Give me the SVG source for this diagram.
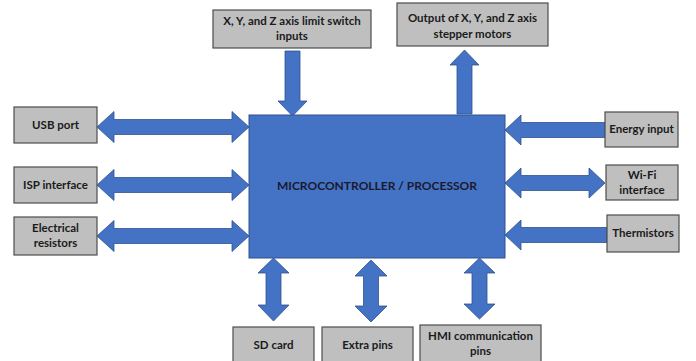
<svg xmlns="http://www.w3.org/2000/svg" width="696" height="361" viewBox="0 0 696 361">
<defs>
<style>
.box{fill:#bfbfbf;stroke:#4d4d4d;stroke-width:1.2}
.main{fill:#4472c4;stroke:#2f528f;stroke-width:1}
.arr{fill:#4472c4;stroke:#2f528f;stroke-width:0.8}
.t{font-family:Lato,"Liberation Sans",sans-serif;font-weight:bold;font-size:11.5px;fill:#1a1a1a;text-anchor:middle}
.tm{font-family:Lato,"Liberation Sans",sans-serif;font-weight:bold;font-size:12px;fill:#1a1a2e;text-anchor:middle}
</style>
</defs>
<rect width="696" height="361" fill="#ffffff"/>
<g id="connectors">
<path class="arr" d="M285,51 L300,51 L300,101 L307,101 L292.5,116 L278,101 L285,101 Z"/>
<path class="arr" d="M457,114 L457,65 L450,65 L464.5,50 L479,65 L472,65 L472,114 Z"/>
<path class="arr" d="M97,127 L114,111.5 L114,119.5 L232,119.5 L232,111.5 L249,127 L232,142.5 L232,134.5 L114,134.5 L114,142.5 Z"/>
<path class="arr" d="M97,185 L114,169.5 L114,177.5 L232,177.5 L232,169.5 L249,185 L232,200.5 L232,192.5 L114,192.5 L114,200.5 Z"/>
<path class="arr" d="M97,236 L114,220.5 L114,228.5 L232,228.5 L232,220.5 L249,236 L232,251.5 L232,243.5 L114,243.5 L114,251.5 Z"/>
<path class="arr" d="M505,130 L521,115 L521,122.5 L605,122.5 L605,137.5 L521,137.5 L521,145 Z"/>
<path class="arr" d="M505,183 L521,168 L521,175.5 L589,175.5 L589,168 L605,183 L589,198 L589,190.5 L521,190.5 L521,198 Z"/>
<path class="arr" d="M505,235 L521,220 L521,227.5 L607,227.5 L607,242.5 L521,242.5 L521,250 Z"/>
<path class="arr" d="M273.5,258 L289,273 L281,273 L281,305 L289,305 L273.5,321 L258,305 L266,305 L266,273 L258,273 Z"/>
<path class="arr" d="M371,260 L387,276 L378.5,276 L378.5,306 L387,306 L371,322 L355,306 L363.5,306 L363.5,276 L355,276 Z"/>
<path class="arr" d="M479.5,258 L495,273 L487,273 L487,304 L495,304 L479.5,319 L464,304 L472,304 L472,273 L464,273 Z"/>
</g>
<g id="main">
<rect class="main" x="249" y="115" width="256" height="143"/>
<text class="tm" x="377" y="190">MICROCONTROLLER / PROCESSOR</text>
</g>
<g id="limit-switch">
<rect class="box" x="213" y="10" width="158" height="38"/>
<text class="t" x="292" y="25">X, Y, and Z axis limit switch</text>
<text class="t" x="292" y="40">inputs</text>
</g>
<g id="stepper">
<rect class="box" x="397" y="3" width="151" height="43"/>
<text class="t" x="472.5" y="22">Output of X, Y, and Z axis</text>
<text class="t" x="472.5" y="38">stepper motors</text>
</g>
<g id="usb">
<rect class="box" x="14" y="107" width="83" height="36"/>
<text class="t" x="55.5" y="129">USB port</text>
</g>
<g id="isp">
<rect class="box" x="14" y="167" width="83" height="36"/>
<text class="t" x="55.5" y="189">ISP interface</text>
</g>
<g id="resistors">
<rect class="box" x="14" y="217" width="83" height="38"/>
<text class="t" x="55.5" y="232">Electrical</text>
<text class="t" x="55.5" y="247">resistors</text>
</g>
<g id="energy">
<rect class="box" x="605" y="112" width="73" height="35"/>
<text class="t" x="641.5" y="133">Energy input</text>
</g>
<g id="wifi">
<rect class="box" x="606" y="165" width="72" height="35"/>
<text class="t" x="642" y="179">Wi-Fi</text>
<text class="t" x="642" y="194">interface</text>
</g>
<g id="thermistors">
<rect class="box" x="607" y="215" width="72" height="37"/>
<text class="t" x="643" y="237">Thermistors</text>
</g>
<g id="sdcard">
<rect class="box" x="233" y="327" width="81" height="40"/>
<text class="t" x="273.5" y="349">SD card</text>
</g>
<g id="extrapins">
<rect class="box" x="322" y="327" width="91" height="40"/>
<text class="t" x="367.5" y="349">Extra pins</text>
</g>
<g id="hmi">
<rect class="box" x="420" y="325" width="121" height="42"/>
<text class="t" x="480.5" y="340">HMI communication</text>
<text class="t" x="480.5" y="355">pins</text>
</g>
</svg>
